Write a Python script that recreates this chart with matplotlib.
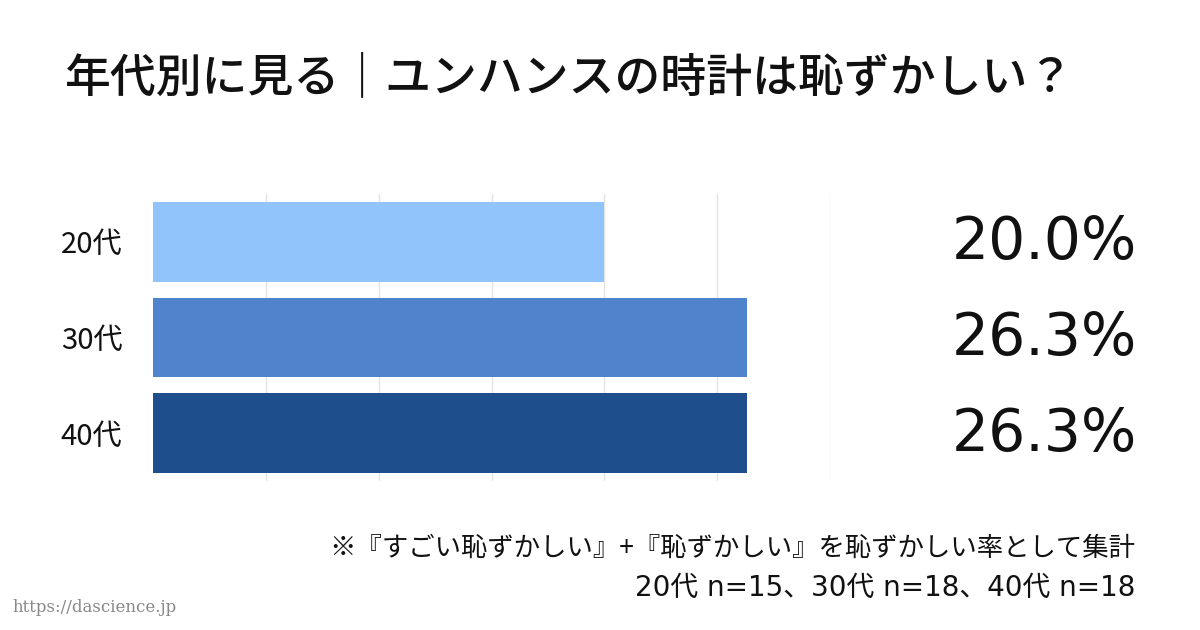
import matplotlib
matplotlib.use("Agg")
import matplotlib.pyplot as plt

categories = ["20代", "30代", "40代"]
values = [20.0, 26.3, 26.3]
labels = ["20.0%", "26.3%", "26.3%"]
colors = ["#90C4FB", "#4F83CB", "#1F4E8C"]

plt.rcParams['font.family'] = ['Noto Sans CJK JP', 'DejaVu Sans']
fig = plt.figure(figsize=(12, 6.3), dpi=100)
fig.patch.set_facecolor("white")
W, H = 1200, 630
ax = fig.add_axes([153/W, 1-481/H, (830-153)/W, (481-194)/H])
y = list(range(len(categories)))
ax.barh(y, values, height=0.83, color=colors, zorder=2)
ax.set_xlim(0, 30)
ax.set_ylim(2.5, -0.5)
ax.set_xticks([5, 10, 15, 20, 25, 30])
ax.grid(axis='x', color='#e3e3e3', linewidth=1, zorder=0)
ax.tick_params(length=0, labelbottom=False)
ax.set_yticks(y)
ax.set_yticklabels(categories, fontsize=21, color='#111111')
ax.tick_params(axis='y', pad=22)
for s in ax.spines.values():
    s.set_visible(False)
for i, lab in enumerate(labels):
    fig.text(1137/W, 1-(242+96*i)/H, lab, fontsize=42, ha='right', va='center',
             family='DejaVu Sans', fontweight='medium', color='#111111')

fig.text(65/W, 1-78/H, "年代別に見る｜ユンハンスの時計は恥ずかしい？", fontsize=33,
         fontweight='medium', ha='left', va='center', color='#111111')
fig.text(1135/W, 1-548/H, "※『すごい恥ずかしい』+『恥ずかしい』を恥ずかしい率として集計",
         fontsize=19, ha='right', va='center', color='#111111')
fig.text(1135/W, 1-588/H, "20代 n=15、30代 n=18、40代 n=18",
         fontsize=20, ha='right', va='center', color='#111111',
         family=['DejaVu Sans', 'Noto Sans CJK JP'])
fig.text(12/W, 1-607/H, "https://dascience.jp", fontsize=12, family='DejaVu Serif',
         color='#888888', ha='left', va='center')
fig.savefig("out.png", dpi=100)
